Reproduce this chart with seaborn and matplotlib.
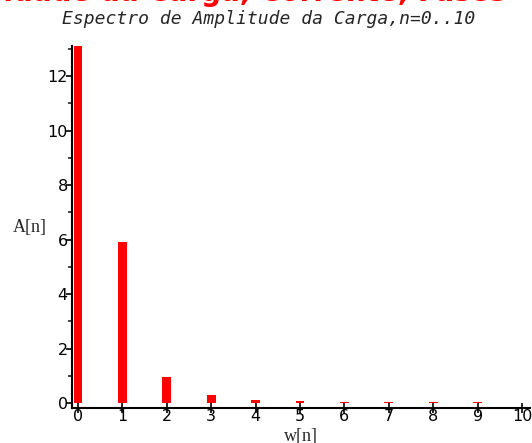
import matplotlib
matplotlib.use("Agg")
import matplotlib.pyplot as plt
from matplotlib.ticker import MultipleLocator
import seaborn as sns
import pandas as pd

# Data
n_values = [0, 1, 2, 3, 4, 5, 6, 7, 8, 9, 10]
amplitudes = [13.1, 5.9, 0.95, 0.28, 0.12, 0.065, 0.045, 0.035, 0.03, 0.025, 0.02]
y_ticks = [0, 2, 4, 6, 8, 10, 12]
title_text = "Espectro de Amplitude da Carga,n=0..10"
top_text = "Intensidade da Carga, Corrente, Fases"
xlabel_text = "w[n]"
ylabel_text = "A[n]"

sns.set_style("white")
plt.rcParams['font.family'] = ['DejaVu Sans']

df = pd.DataFrame({"n": n_values, "A": amplitudes})

fig = plt.figure(figsize=(5.32, 4.43), dpi=100)
ax = fig.add_axes([72/532, 35/443, 458/532, 362/443])

sns.barplot(data=df, x="n", y="A", native_scale=True, width=0.2,
            color="#ff0000", saturation=1, edgecolor="none", linewidth=0, ax=ax)

ax.set_xlim(-0.135, 10.18)
ax.set_ylim(-0.18, 13.1)

for s in ["top", "right"]:
    ax.spines[s].set_visible(False)
for s in ["left", "bottom"]:
    ax.spines[s].set_linewidth(1.5)
    ax.spines[s].set_color("black")

ax.set_xticks(n_values)
ax.set_xticklabels([str(v) for v in n_values])
ax.set_yticks(y_ticks)
ax.set_yticklabels([str(v) for v in y_ticks])
ax.yaxis.set_minor_locator(MultipleLocator(1))

ax.tick_params(axis="x", which="major", direction="inout", length=7, width=1.2,
               pad=-3, labelsize=11.5, colors="black", bottom=True)
ax.tick_params(axis="y", which="major", direction="out", length=4, width=1.2,
               pad=-1, labelsize=11.5, colors="black", left=True)
ax.tick_params(axis="y", which="minor", direction="out", length=3, width=1.2,
               left=True)

ax.set_xlabel(xlabel_text, family=["Liberation Serif"], fontsize=13, labelpad=3)
ax.set_ylabel("")
fig.text(13/532, 1 - 227/443, ylabel_text, family=["Liberation Serif"], fontsize=13,
         ha="left", va="center")

fig.text(269/532, 1 - 24/443, title_text, family=["DejaVu Sans Mono"],
         style="italic", fontsize=13, ha="center", va="baseline")
fig.text(506/532, 1 - 1/443, top_text, color="#ff0000", fontweight="bold",
         fontsize=20, ha="right", va="baseline")

fig.savefig("out.png", dpi=100)
